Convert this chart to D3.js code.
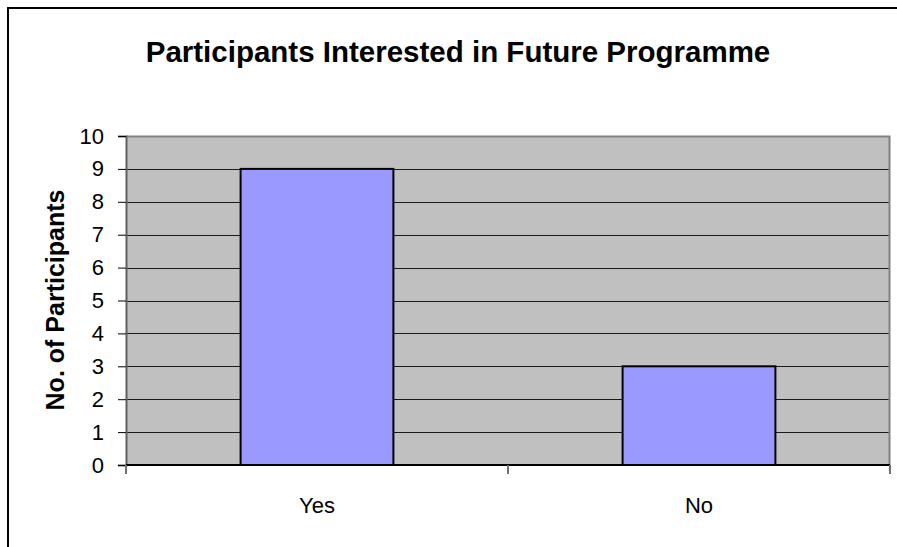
<!DOCTYPE html>
<html>
<head>
<meta charset="utf-8">
<script src="https://cdn.jsdelivr.net/npm/d3@7"></script>
<style>
  body { margin: 0; background: #fff; }
  svg { display: block; font-family: "Liberation Sans", Arial, sans-serif; }
</style>
</head>
<body>
<svg width="897" height="547"></svg>
<script>
// data
var categories = ["Yes", "No"];
var counts = [9, 3];
var yTicks = [0, 1, 2, 3, 4, 5, 6, 7, 8, 9, 10];

var titleText = "Participants Interested in Future Programme";
var yTitle = "No. of Participants";

var svg = d3.select("svg");

// outer chart frame
svg.append("rect")
  .attr("x", 8).attr("y", 8)
  .attr("width", 897).attr("height", 560)
  .attr("fill", "#fff")
  .attr("stroke", "#000")
  .attr("stroke-width", 2);

// plot area (don't use "top", it's window.top)
var pLeft = 126, pRight = 890, pTop = 136, pBottom = 465;

var x = d3.scaleBand()
  .domain(categories)
  .range([pLeft, pRight])
  .paddingInner(0.6)
  .paddingOuter(0.3);

var y = d3.scaleLinear()
  .domain([0, 10])
  .range([pBottom, pTop]);

// plot background
svg.append("rect")
  .attr("x", pLeft).attr("y", pTop)
  .attr("width", pRight - pLeft).attr("height", pBottom - pTop)
  .attr("fill", "#c0c0c0");

// gridlines
svg.append("g")
  .selectAll("line")
  .data(yTicks.filter(function(d) { return d > 0 && d < 10; }))
  .enter().append("line")
  .attr("x1", pLeft).attr("x2", pRight)
  .attr("y1", function(d) { return Math.round(y(d)) + 0.5; })
  .attr("y2", function(d) { return Math.round(y(d)) + 0.5; })
  .attr("stroke", "#1a1a1a")
  .attr("stroke-width", 1);

// plot border top/right
svg.append("path")
  .attr("d", "M" + pLeft + "," + (pTop + 0.5) + "H" + (pRight - 0.5) + "V" + pBottom)
  .attr("fill", "none")
  .attr("stroke", "#808080")
  .attr("stroke-width", 2);

// bars
svg.append("g")
  .selectAll("rect")
  .data(counts)
  .enter().append("rect")
  .attr("x", function(d, i) { return x(categories[i]); })
  .attr("y", function(d) { return y(d); })
  .attr("width", x.bandwidth())
  .attr("height", function(d) { return y(0) - y(d); })
  .attr("fill", "#9999ff")
  .attr("stroke", "#000")
  .attr("stroke-width", 2);

// y axis
var yAxis = d3.axisLeft(y)
  .tickValues(yTicks)
  .tickSize(8)
  .tickPadding(14)
  .tickFormat(d3.format("d"));

var gy = svg.append("g")
  .attr("transform", "translate(" + pLeft + ",0)")
  .call(yAxis);
gy.select(".domain").attr("stroke", "#606060").attr("stroke-width", 2);
gy.selectAll(".tick line").attr("stroke", "#000");
gy.selectAll(".tick text")
  .attr("font-size", 22)
  .attr("fill", "#000")
  .attr("font-family", "Liberation Sans, Arial, sans-serif");

// x axis with ticks at band boundaries
var xAxis = svg.append("g")
  .attr("transform", "translate(0," + pBottom + ")");
xAxis.append("line")
  .attr("x1", pLeft).attr("x2", pRight)
  .attr("stroke", "#000").attr("stroke-width", 2);
var step = (pRight - pLeft) / categories.length;
xAxis.selectAll(".xt")
  .data(d3.range(categories.length + 1))
  .enter().append("line")
  .attr("class", "xt")
  .attr("x1", function(i) { return pLeft + i * step; })
  .attr("x2", function(i) { return pLeft + i * step; })
  .attr("y1", 0).attr("y2", 9)
  .attr("stroke", "#707070").attr("stroke-width", 2);
xAxis.selectAll("text")
  .data(categories)
  .enter().append("text")
  .attr("x", function(d) { return x(d) + x.bandwidth() / 2; })
  .attr("y", 48)
  .attr("text-anchor", "middle")
  .attr("font-size", 22)
  .text(function(d) { return d; });

// title
svg.append("text")
  .attr("x", 458)
  .attr("y", 62)
  .attr("text-anchor", "middle")
  .attr("font-weight", "bold")
  .attr("font-size", 29.5)
  .text(titleText);

// y title
svg.append("text")
  .attr("transform", "translate(64,300) rotate(-90)")
  .attr("text-anchor", "middle")
  .attr("font-weight", "bold")
  .attr("font-size", 25)
  .text(yTitle);
</script>
</body>
</html>
